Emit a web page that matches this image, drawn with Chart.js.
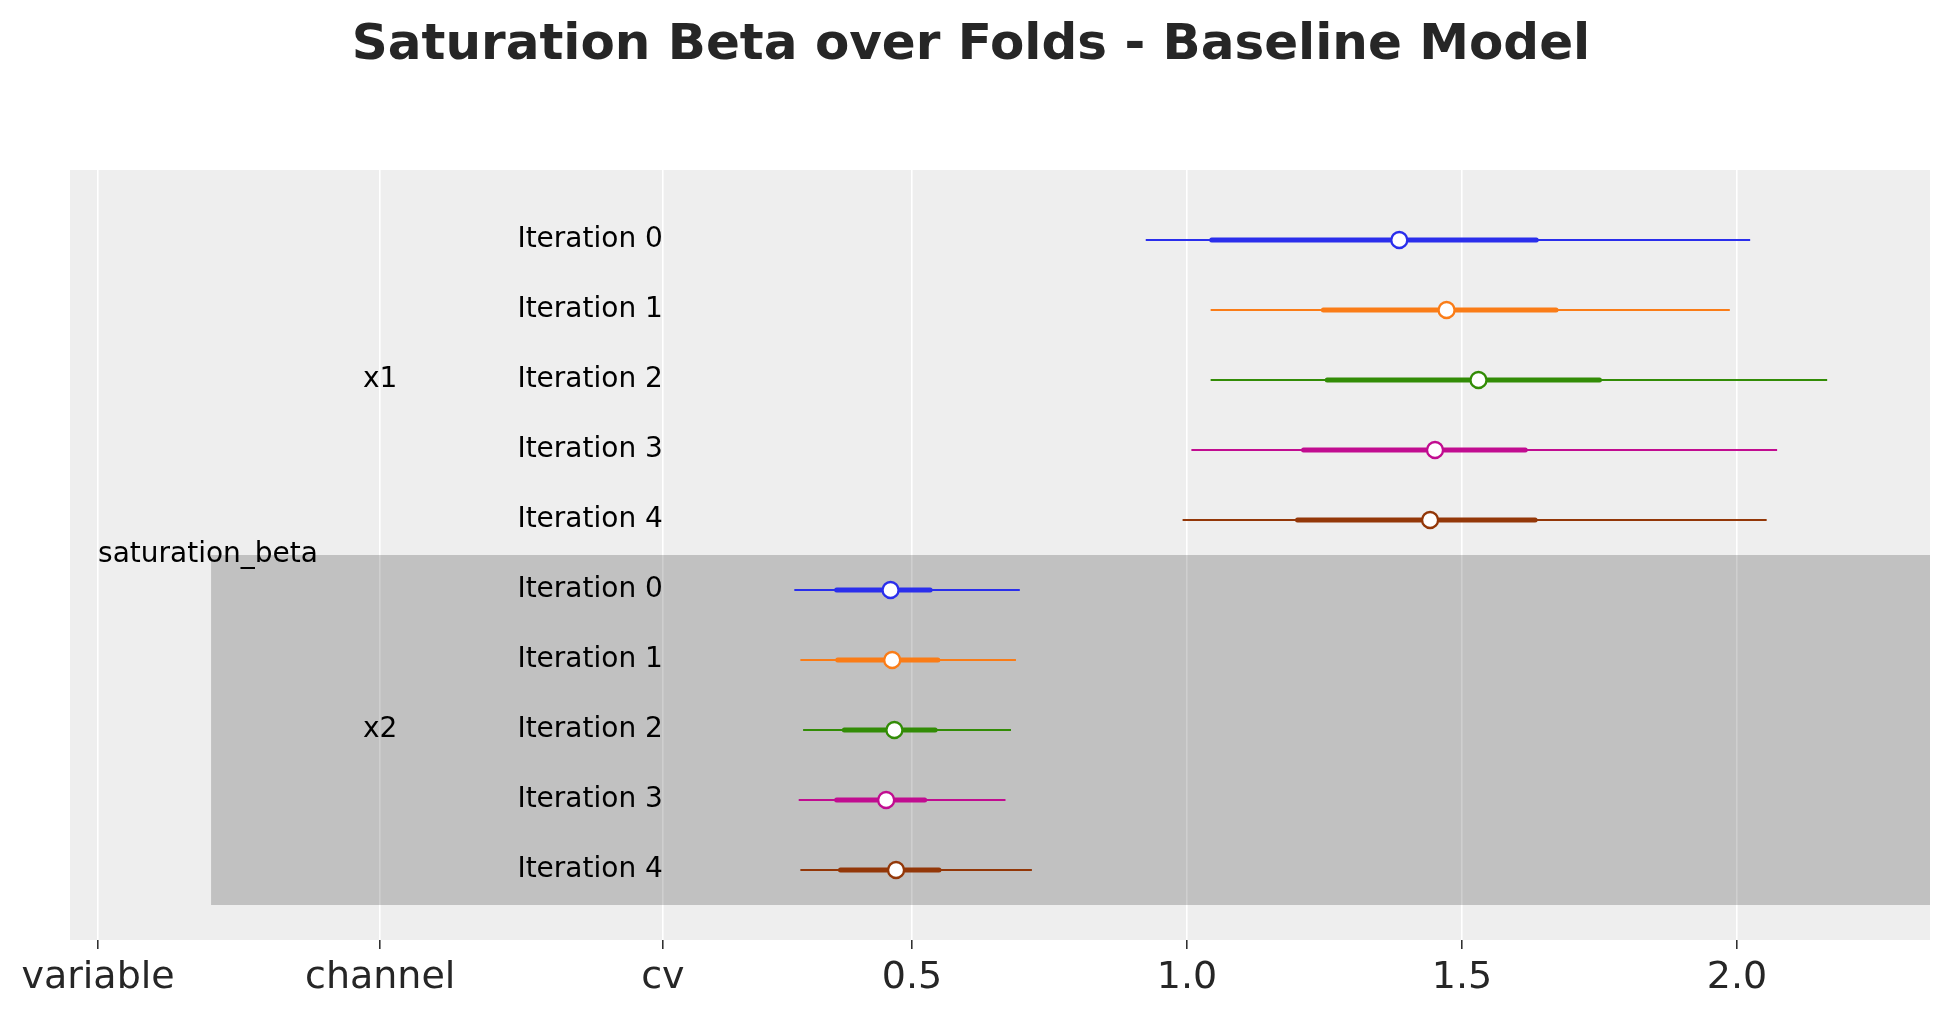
<!DOCTYPE html>
<html>
<head>
<meta charset="utf-8">
<title>Saturation Beta over Folds - Baseline Model</title>
<script src="https://cdn.jsdelivr.net/npm/chart.js@4.4.1/dist/chart.umd.min.js"></script>
<style>
  html, body { margin: 0; padding: 0; background: #ffffff; }
  #wrap { width: 1950px; height: 1016px; }
</style>
</head>
<body>
<div id="wrap"><canvas id="forestChart" width="1950" height="1016"></canvas></div>
<script>
// values (median, 50% and 94% intervals)
const variableName = 'saturation_beta';
const channels = ['x1', 'x2'];
const iterations = ['Iteration 0', 'Iteration 1', 'Iteration 2', 'Iteration 3', 'Iteration 4'];

const x1Median = [1.386, 1.472, 1.530, 1.451, 1.442];
const x1InnerLow = [1.045, 1.248, 1.255, 1.212, 1.201];
const x1InnerHigh = [1.635, 1.671, 1.750, 1.615, 1.633];
const x1OuterLow = [0.925, 1.043, 1.043, 1.008, 0.992];
const x1OuterHigh = [2.024, 1.987, 2.164, 2.073, 2.054];

const x2Median = [0.461, 0.464, 0.468, 0.453, 0.471];
const x2InnerLow = [0.363, 0.365, 0.377, 0.363, 0.370];
const x2InnerHigh = [0.533, 0.547, 0.542, 0.523, 0.549];
const x2OuterLow = [0.286, 0.297, 0.302, 0.294, 0.297];
const x2OuterHigh = [0.696, 0.689, 0.680, 0.670, 0.718];

// x axis: the label columns share the axis with the numeric ticks
const tickValues = [-0.98, -0.467, 0.047, 0.5, 1.0, 1.5, 2.0];
const tickLabels = ['variable', 'channel', 'cv', '0.5', '1.0', '1.5', '2.0'];

const colors = ['#2a2eec', '#fa7c17', '#328c06', '#c10c90', '#933708'];

function buildGroup(median, innerLow, innerHigh, outerLow, outerHigh, rowOffset) {
  const sets = [];
  median.forEach((m, i) => {
    const row = rowOffset + i;
    const color = colors[i];
    sets.push({
      type: 'line',
      data: [{ x: outerLow[i], y: row }, { x: outerHigh[i], y: row }],
      borderColor: color,
      borderWidth: 2,
      pointRadius: 0,
      order: 3,
    });
    sets.push({
      type: 'line',
      data: [{ x: innerLow[i], y: row }, { x: innerHigh[i], y: row }],
      borderColor: color,
      borderWidth: 5,
      borderCapStyle: 'round',
      pointRadius: 0,
      order: 2,
    });
    sets.push({
      type: 'scatter',
      data: [{ x: m, y: row }],
      borderColor: color,
      backgroundColor: '#ffffff',
      pointRadius: 8,
      pointBorderWidth: 2.3,
      order: 1,
    });
  });
  return sets;
}

const datasets = [
  ...buildGroup(x1Median, x1InnerLow, x1InnerHigh, x1OuterLow, x1OuterHigh, 0),
  ...buildGroup(x2Median, x2InnerLow, x2InnerHigh, x2OuterLow, x2OuterHigh, iterations.length),
];

// axes face colour
const facePlugin = {
  id: 'face',
  beforeDraw(chart) {
    const { ctx, chartArea: a } = chart;
    ctx.save();
    ctx.fillStyle = '#eeeeee';
    ctx.fillRect(a.left, a.top, a.right - a.left, a.bottom - a.top);
    ctx.restore();
  },
};

// shaded band behind the second channel, drawn over the grid
const bandPlugin = {
  id: 'band',
  beforeDatasetsDraw(chart) {
    const { ctx, chartArea: a, scales } = chart;
    const x0 = scales.x.getPixelForValue(-0.7745);
    const y0 = scales.y.getPixelForValue(iterations.length - 0.5);
    const y1 = scales.y.getPixelForValue(iterations.length * 2 - 0.5);
    ctx.save();
    ctx.fillStyle = 'rgba(0,0,0,0.19)';
    ctx.fillRect(x0, y0, a.right - x0, y1 - y0);
    ctx.restore();
  },
};

// row labels: variable, channel and iteration columns
const labelPlugin = {
  id: 'rowLabels',
  afterDatasetsDraw(chart) {
    const { ctx, scales } = chart;
    const n = iterations.length;
    ctx.save();
    ctx.fillStyle = '#000000';
    ctx.font = '28px "DejaVu Sans"';
    ctx.textBaseline = 'middle';

    ctx.textAlign = 'left';
    ctx.fillText(variableName, scales.x.getPixelForValue(tickValues[0]), scales.y.getPixelForValue(n - 0.5));

    ctx.textAlign = 'center';
    channels.forEach((c, g) => {
      ctx.fillText(c, scales.x.getPixelForValue(tickValues[1]), scales.y.getPixelForValue(g * n + (n - 1) / 2));
    });

    ctx.textAlign = 'right';
    channels.forEach((c, g) => {
      iterations.forEach((label, i) => {
        ctx.fillText(label, scales.x.getPixelForValue(tickValues[2]), scales.y.getPixelForValue(g * n + i));
      });
    });
    ctx.restore();
  },
};

const ctx = document.getElementById('forestChart').getContext('2d');
new Chart(ctx, {
  data: { datasets: datasets },
  plugins: [facePlugin, bandPlugin, labelPlugin],
  options: {
    responsive: false,
    devicePixelRatio: 1,
    animation: false,
    events: [],
    layout: { padding: { left: 12, right: 20, top: 0, bottom: 0 } },
    plugins: {
      legend: { display: false },
      tooltip: { enabled: false },
      title: {
        display: true,
        text: 'Saturation Beta over Folds - Baseline Model',
        color: '#262626',
        font: { family: '"DejaVu Sans"', size: 50, weight: 'bold', lineHeight: 1.2 },
        padding: { top: 16, bottom: 94 },
      },
    },
    scales: {
      x: {
        type: 'linear',
        min: -1.031,
        max: 2.351,
        afterBuildTicks: (scale) => {
          scale.ticks = tickValues.map((v) => ({ value: v }));
        },
        afterFit: (scale) => {
          scale.height = 76;
        },
        border: { display: false },
        grid: {
          color: '#ffffff',
          lineWidth: 1.6,
          tickColor: '#262626',
          tickWidth: 1.5,
          tickLength: 9,
        },
        ticks: {
          autoSkip: false,
          maxRotation: 0,
          padding: 6,
          color: '#262626',
          font: { family: '"DejaVu Sans"', size: 38 },
          callback: (value, index) => tickLabels[index],
        },
      },
      y: {
        type: 'linear',
        min: -1,
        max: iterations.length * 2,
        reverse: true,
        afterFit: (scale) => {
          scale.width = 58;
        },
        border: { display: false },
        grid: { display: false },
        ticks: { display: false },
      },
    },
  },
});
</script>
</body>
</html>
